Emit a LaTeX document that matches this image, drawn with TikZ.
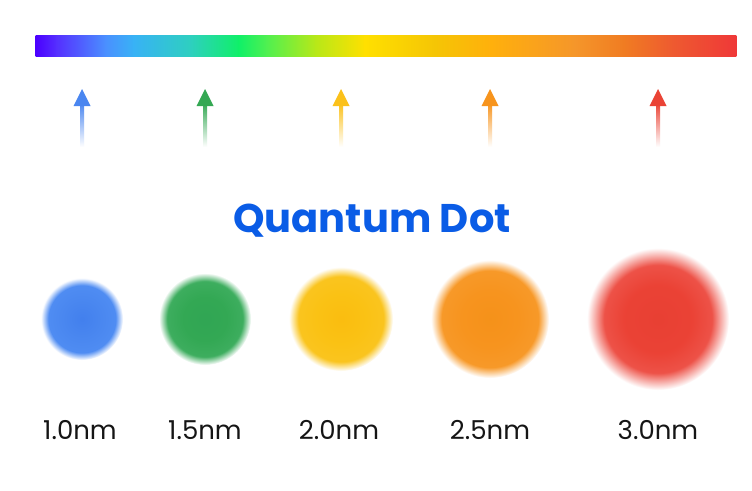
\documentclass[tikz,border=0pt]{standalone}
\usepackage{fontspec}
\setmainfont{Poppins}
\newfontfamily\titlefont{Poppins}
\definecolor{qblue}{HTML}{4A86F0}
\definecolor{qgreen}{HTML}{34A853}
\definecolor{qyellow}{HTML}{FBC11A}
\definecolor{qorange}{HTML}{F7941D}
\definecolor{qred}{HTML}{EA4335}
\definecolor{titleblue}{HTML}{0A5CE6}
\definecolor{labelgray}{HTML}{151515}
\definecolor{s0}{HTML}{4B00FF}
\definecolor{s1}{HTML}{5530FF}
\definecolor{s2}{HTML}{4A90FF}
\definecolor{s3}{HTML}{38B2F5}
\definecolor{s4}{HTML}{2ECFC0}
\definecolor{s5}{HTML}{10F068}
\definecolor{s6}{HTML}{50F050}
\definecolor{s7}{HTML}{B8E818}
\definecolor{s8}{HTML}{FFE000}
\definecolor{s9}{HTML}{F5C505}
\definecolor{s10}{HTML}{FFB00C}
\definecolor{s11}{HTML}{F5962A}
\definecolor{s12}{HTML}{F07C22}
\definecolor{s13}{HTML}{EE5A30}
\definecolor{s14}{HTML}{EF3838}
\pgfdeclareradialshading{dotblue}{\pgfpoint{0bp}{0bp}}{rgb(0bp)=(0.26,0.50,0.93); rgb(12bp)=(0.29,0.53,0.94); rgb(20.5bp)=(0.31,0.55,0.95); rgb(25bp)=(1,1,1); rgb(50bp)=(1,1,1)}
\pgfdeclareradialshading{dotgreen}{\pgfpoint{0bp}{0bp}}{rgb(0bp)=(0.19,0.65,0.33); rgb(12bp)=(0.20,0.66,0.33); rgb(20.5bp)=(0.24,0.68,0.37); rgb(25bp)=(1,1,1); rgb(50bp)=(1,1,1)}
\pgfdeclareradialshading{dotyellow}{\pgfpoint{0bp}{0bp}}{rgb(0bp)=(0.98,0.74,0.06); rgb(12bp)=(0.98,0.76,0.08); rgb(20.5bp)=(0.98,0.77,0.12); rgb(25bp)=(1,1,1); rgb(50bp)=(1,1,1)}
\pgfdeclareradialshading{dotorange}{\pgfpoint{0bp}{0bp}}{rgb(0bp)=(0.96,0.57,0.10); rgb(12bp)=(0.97,0.58,0.12); rgb(20.5bp)=(0.97,0.60,0.16); rgb(25bp)=(1,1,1); rgb(50bp)=(1,1,1)}
\pgfdeclareradialshading{dotred}{\pgfpoint{0bp}{0bp}}{rgb(0bp)=(0.91,0.25,0.20); rgb(12bp)=(0.92,0.26,0.21); rgb(19bp)=(0.93,0.32,0.28); rgb(25bp)=(1,1,1); rgb(50bp)=(1,1,1)}
\tikzset{
  sizelabel/.style={font=\fontsize{26}{28}\selectfont, text=labelgray, anchor=base, inner sep=0pt},
}
\newcommand{\qdarrow}[2]{%
  \coordinate (tip#2) at (#1,89);
  \shade[top color=#2, bottom color=white, draw=none] ([xshift=-2pt]tip#2 |- 0,103) rectangle ([xshift=2pt]tip#2 |- 0,147);
  \fill[#2] (tip#2) -- ([xshift=-8.5pt,yshift=-17pt]tip#2) -- ([xshift=8.5pt,yshift=-17pt]tip#2) -- cycle;
}
\begin{document}
\begin{tikzpicture}[x=1pt,y=-1pt]
\useasboundingbox (0,0) rectangle (752,490);
\fill[white] (0,0) rectangle (752,490);
% spectrum bar
\foreach \a/\b/\ca/\cb in {0/0.03/s0/s1, 0.03/0.10/s1/s2, 0.10/0.14/s2/s3, 0.14/0.22/s3/s4, 0.22/0.29/s4/s5, 0.29/0.33/s5/s6, 0.33/0.40/s6/s7, 0.40/0.47/s7/s8, 0.47/0.57/s8/s9, 0.57/0.65/s9/s10, 0.65/0.77/s10/s11, 0.77/0.84/s11/s12, 0.84/0.91/s12/s13, 0.91/1.0/s13/s14}{
  \shade[left color=\ca, right color=\cb, draw=none] ({36+700*\a-0.3},35) rectangle ({36+700*\b+0.3},56);
}
% arrows
\qdarrow{82}{qblue}
\qdarrow{205}{qgreen}
\qdarrow{341}{qyellow}
\qdarrow{490}{qorange}
\qdarrow{658}{qred}
% title
\node[font=\titlefont\bfseries\fontsize{40}{44}\selectfont, text=titleblue, anchor=base, inner sep=0pt] (title) at (372,232) {Quantum Dot};
% dots
\shade[shading=dotblue] (82,319) circle (41);
\shade[shading=dotgreen] (205,319) circle (46);
\shade[shading=dotyellow] (341,319) circle (52);
\shade[shading=dotorange] (490,319) circle (59);
\shade[shading=dotred] (658,319) circle (71);
% labels
\node[sizelabel] (l1) at (80,439) {1.0nm};
\node[sizelabel] (l2) at (205,439) {1.5nm};
\node[sizelabel] (l3) at (339,439) {2.0nm};
\node[sizelabel] (l4) at (490,439) {2.5nm};
\node[sizelabel] (l5) at (658,439) {3.0nm};
\end{tikzpicture}
\end{document}
